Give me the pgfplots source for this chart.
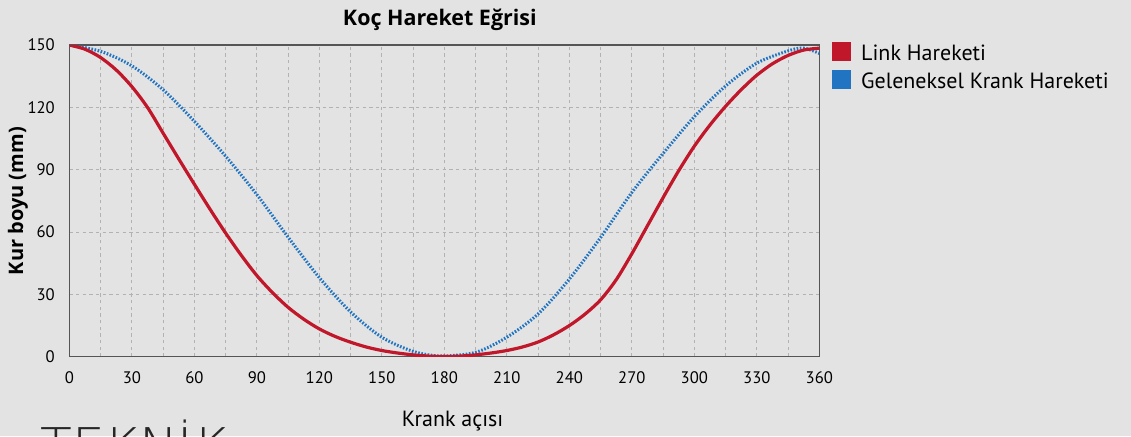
\documentclass[border=0pt]{standalone}
\usepackage{fontspec}
\setmainfont{PT Sans}
\newfontfamily\titlefont{Open Sans}
\newfontfamily\thinfont{DejaVu Sans ExtraLight}
\usepackage{pgfplots}
\pgfplotsset{compat=1.18}
\definecolor{bg}{HTML}{E3E3E3}
\definecolor{linkred}{HTML}{C0172A}
\definecolor{crankblue}{HTML}{2074C1}
\definecolor{gridgray}{HTML}{B2B2B2}
\definecolor{axgray}{HTML}{555555}
\begin{document}
\begin{tikzpicture}
\useasboundingbox (0,0) rectangle (848.25pt,327pt);
\fill[bg] (0,0) rectangle (848.25pt,327pt);
\node[anchor=base west, inner sep=0pt, text=black!85, font=\thinfont\fontsize{39}{39}\selectfont] at (30pt,-21.8pt) {TEKNİK};
\begin{axis}[
  at={(52pt,59.6pt)}, anchor=south west,
  scale only axis, width=562.5pt, height=233.6pt,
  xmin=0, xmax=360, ymin=0, ymax=150,
  xtick={0,30,...,360}, minor xtick={15,45,...,345},
  ytick={0,30,...,150},
  grid=both,
  major grid style={gridgray, dash pattern=on 2.5pt off 2.5pt, line width=0.6pt},
  minor grid style={gridgray, dash pattern=on 2.5pt off 2.5pt, line width=0.6pt},
  major tick length=0pt, minor tick length=0pt,
  axis line style={axgray, line width=1pt},
  /pgf/number format/assume math mode=true,
  tick label style={font=\fontsize{12.5}{12.5}\selectfont},
  xticklabel style={inner sep=0pt, yshift=-10.9pt},
  yticklabel style={inner sep=0pt, xshift=-10.7pt},
  title={Koç Hareket Eğrisi},
  title style={at={(axis description cs:0.494,1.0546)}, anchor=center, yshift=0pt, font=\titlefont\bfseries\fontsize{16.1}{17}\selectfont},
  xlabel={Krank açısı},
  xlabel style={at={(axis description cs:0.511,-0.2254)}, anchor=base, font=\fontsize{16.5}{17}\selectfont},
  ylabel={Kur boyu (mm)},
  ylabel style={at={(axis description cs:-0.0684,0.499)}, anchor=center, font=\titlefont\bfseries\fontsize{15}{16}\selectfont},
  legend image code/.code={\fill[#1, draw=none, solid] (0pt,-5.45pt) rectangle (14.25pt,8.8pt); \path (21pt,0pt);},
  legend style={at={(1,1)}, anchor=north west, xshift=9pt, yshift=2.4pt, draw=none, fill=none, inner sep=0pt,
    nodes={inner sep=0pt, font=\fontsize{16.5}{17}\selectfont}, row sep=5.35pt},
  legend cell align=left,
  reverse legend,
]
\addplot[color=crankblue, line width=2.3pt, dash pattern=on 1.2pt off 1.2pt, smooth] coordinates {
(0,150) (15,147) (30,140) (45,128.5) (60,113.3) (75,96.5) (90,78) (105,57.5) (120,38) (135,21.5) (150,9.3) (165,2.5) (178,0.3)
(195,2) (210,9.3) (225,20.5) (240,37.3) (255,57.3) (270,79) (285,97.8) (300,115.5) (315,130.3) (330,141.3) (345,147.2) (352.5,148.5) (360,146)
};
\addlegendentry{Geleneksel Krank Hareketi}
\addplot[color=linkred, line width=2.4pt, smooth] coordinates {
(0,150) (7.5,148) (15,144) (22.5,138) (30,130) (37.5,120) (45,107.6) (52.5,95.2) (60,83) (67.5,71) (75,59.5) (82.5,48.8) (90,39)
(97.5,30.8) (105,23.7) (112.5,18) (120,13.3) (127.5,9.7) (135,6.9) (142.5,4.6) (150,2.9) (157.5,1.7) (165,0.8) (172.5,0.2) (180,0)
(187.5,0.2) (195,0.8) (202.5,1.7) (210,2.9) (217.5,4.6) (225,7) (232.5,10.5) (240,14.9) (247.5,20.4) (255,27.3) (262.5,37)
(270,49.5) (277.5,63) (285,76.5) (292.5,89.5) (300,101.3) (307.5,111.5) (315,120.5) (322.5,128.5) (330,135.5) (337.5,141) (345,145)
(352.5,147.6) (360,148.5)
};
\addlegendentry{Link Hareketi}
\end{axis}
\end{tikzpicture}
\end{document}
